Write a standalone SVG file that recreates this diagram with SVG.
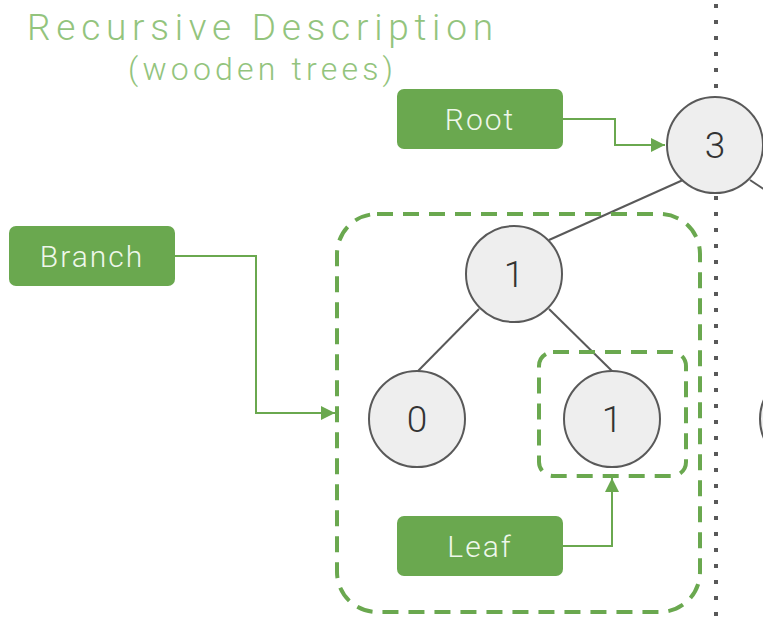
<svg xmlns="http://www.w3.org/2000/svg" width="763" height="618" viewBox="0 0 763 618">
<defs>
<style>
.title{font-family:Roboto,"Liberation Sans",sans-serif;font-weight:300;fill:#93c47d;}
.lbl rect{fill:#6aa84f;}
.lbl text{font-family:Roboto,"Liberation Sans",sans-serif;font-weight:300;font-size:30px;fill:#eef7ea;text-anchor:middle;letter-spacing:2px;}
.node circle{fill:#eeeeee;stroke:#595959;stroke-width:2;}
.node text{font-family:Roboto,"Liberation Sans",sans-serif;font-size:37px;fill:#333;text-anchor:middle;font-weight:300;}
.edge{stroke:#595959;stroke-width:2;fill:none;}
.conn{stroke:#6aa84f;stroke-width:2;fill:none;}
.group{stroke:#6aa84f;stroke-width:4;fill:none;stroke-dasharray:16 10;}
</style>
<marker id="arr" viewBox="0 0 10 10" refX="10" refY="5" markerWidth="7" markerHeight="7" orient="auto" markerUnits="strokeWidth">
<path d="M0,0 L10,5 L0,10 z" fill="#6aa84f"/>
</marker>
</defs>
<rect width="763" height="618" fill="#ffffff"/>
<text class="title" x="27" y="40" font-size="37" textLength="466" lengthAdjust="spacing">Recursive Description</text>
<text class="title" x="128" y="80" font-size="32" textLength="265" lengthAdjust="spacing">(wooden trees)</text>
<line x1="716" y1="4" x2="716" y2="618" stroke="#595959" stroke-width="4" stroke-dasharray="4 12"/>
<g id="connectors">
<line class="edge" x1="683" y1="180" x2="549" y2="240"/>
<line class="edge" x1="750" y1="180" x2="780" y2="200"/>
<line class="edge" x1="479" y1="309" x2="418" y2="371"/>
<line class="edge" x1="549" y1="309" x2="612" y2="371"/>
<path class="conn" d="M563,119 H615 V145 H665" marker-end="url(#arr)"/>
<path class="conn" d="M175,256 H256 V413 H335" marker-end="url(#arr)"/>
<path class="conn" d="M563,546 H612 V478" marker-end="url(#arr)"/>
</g>
<g id="branch-group"><rect class="group" x="337" y="214" width="363" height="398" rx="40"/></g>
<g id="leaf-group"><rect class="group" x="539" y="352" width="147" height="124" rx="14"/></g>
<g id="n3" class="node"><circle cx="715" cy="145" r="48"/><text x="715" y="158">3</text></g>
<g id="n1a" class="node"><circle cx="514" cy="274" r="48"/><text x="514" y="287">1</text></g>
<g id="n0" class="node"><circle cx="417" cy="419" r="48"/><text x="417" y="432">0</text></g>
<g id="n1b" class="node"><circle cx="612" cy="419" r="48"/><text x="612" y="432">1</text></g>
<g id="nr" class="node"><circle cx="808" cy="419" r="48"/></g>
<g id="root" class="lbl"><rect x="397" y="89" width="166" height="60" rx="7"/><text x="480" y="130">Root</text></g>
<g id="branch" class="lbl"><rect x="9" y="226" width="166" height="60" rx="7"/><text x="92" y="267">Branch</text></g>
<g id="leaf" class="lbl"><rect x="397" y="516" width="166" height="60" rx="7"/><text x="480" y="557">Leaf</text></g>
</svg>
